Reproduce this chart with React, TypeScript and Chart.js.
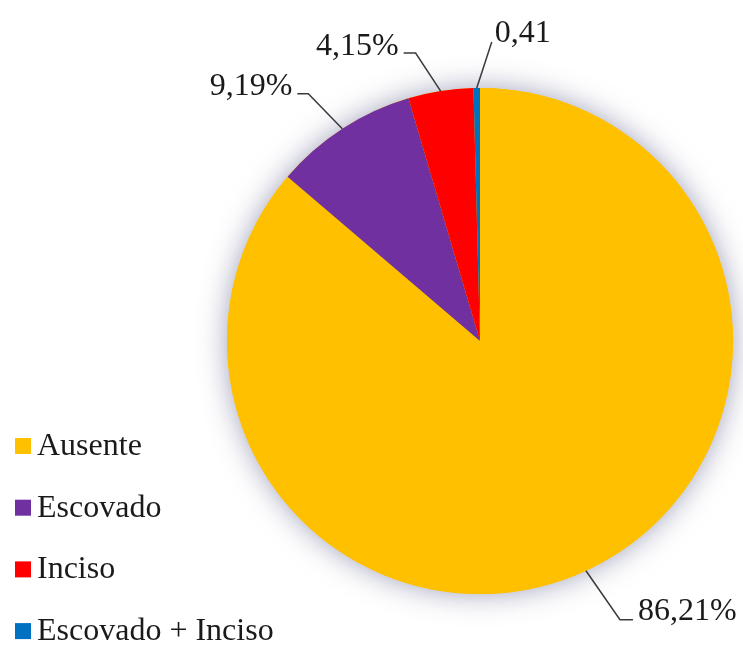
import React, { useEffect, useRef } from "react";
import { Chart, registerables } from "chart.js";

Chart.register(...registerables);

const categories = ["Ausente", "Escovado", "Inciso", "Escovado + Inciso"];
const values = [86.21, 9.19, 4.15, 0.41];
const valueLabels = ["86,21%", "9,19%", "4,15%", "0,41"];
const colors = ["#FFC000", "#7030A0", "#FF0000", "#0070C0"];

const FONT = '32px "Liberation Serif", "Times New Roman", Times, serif';

// leader-line layout relative to each slice's outer mid-point
const leaderLayout = [
  { ex: 34, ey: 49, hx: 47, tx: 52, ty: 49, align: "left" },
  { ex: -34, ey: -35, hx: -45, tx: -50, ty: -34, align: "right" },
  { ex: -25, ey: -38, hx: -37, tx: -42, ty: -36, align: "right" },
  { ex: 15, ey: -46, hx: 15, tx: 18, ty: -46, align: "left" },
];

const shadowPlugin = {
  id: "pieShadow",
  beforeDatasetsDraw(chart: any) {
    const meta = chart.getDatasetMeta(0);
    const arc = meta.data[0];
    if (!arc) return;
    const { x, y, outerRadius } = arc.getProps(["x", "y", "outerRadius"], true);
    const ctx = chart.ctx;
    ctx.save();
    ctx.beginPath();
    ctx.arc(x, y, outerRadius, 0, Math.PI * 2);
    ctx.fillStyle = colors[0];
    ctx.shadowColor = "rgba(70,70,120,0.5)";
    ctx.shadowBlur = 28;
    ctx.fill();
    ctx.restore();
  },
};

const labelPlugin = {
  id: "pieLabels",
  afterDraw(chart: any) {
    const ctx = chart.ctx;
    const meta = chart.getDatasetMeta(0);
    ctx.save();
    ctx.font = FONT;
    ctx.textBaseline = "alphabetic";
    meta.data.forEach((arc: any, i: number) => {
      const { x, y, startAngle, endAngle, outerRadius } = arc.getProps(
        ["x", "y", "startAngle", "endAngle", "outerRadius"],
        true
      );
      const mid = (startAngle + endAngle) / 2;
      const px = x + Math.cos(mid) * outerRadius;
      const py = y + Math.sin(mid) * outerRadius;
      const l = leaderLayout[i];
      ctx.beginPath();
      ctx.strokeStyle = "#3a3a3a";
      ctx.lineWidth = 1.5;
      ctx.moveTo(px, py);
      ctx.lineTo(px + l.ex, py + l.ey);
      ctx.lineTo(px + l.hx, py + l.ey);
      ctx.stroke();
      ctx.fillStyle = "#1a1a1a";
      ctx.textAlign = l.align;
      ctx.fillText(valueLabels[i], px + l.tx, py + l.ty);
    });

    // legend
    const legendX = 15;
    const firstBaseline = 455;
    const step = 61.7;
    categories.forEach((c, i) => {
      const by = firstBaseline + i * step;
      ctx.fillStyle = colors[i];
      ctx.fillRect(legendX, by - 17, 16, 16);
      ctx.fillStyle = "#1a1a1a";
      ctx.textAlign = "left";
      ctx.fillText(c, legendX + 22, by);
    });
    ctx.restore();
  },
};

export default function App() {
  const canvasRef = useRef<HTMLCanvasElement | null>(null);

  useEffect(() => {
    if (!canvasRef.current) return;
    const chart = new Chart(canvasRef.current, {
      type: "pie",
      data: {
        labels: categories,
        datasets: [
          {
            data: values,
            backgroundColor: colors,
            borderWidth: 0,
          },
        ],
      },
      options: {
        responsive: false,
        animation: false,
        devicePixelRatio: 1,
        rotation: 0,
        layout: { padding: { left: 227, right: 10, top: 88, bottom: 52 } },
        plugins: {
          legend: { display: false },
          tooltip: { enabled: false },
        },
      },
      plugins: [shadowPlugin, labelPlugin],
    } as any);
    return () => chart.destroy();
  }, []);

  return (
    <div style={{ position: "fixed", left: 0, top: 0, width: 743, height: 646, background: "#fff" }}>
      <canvas ref={canvasRef} width={743} height={646} />
    </div>
  );
}
